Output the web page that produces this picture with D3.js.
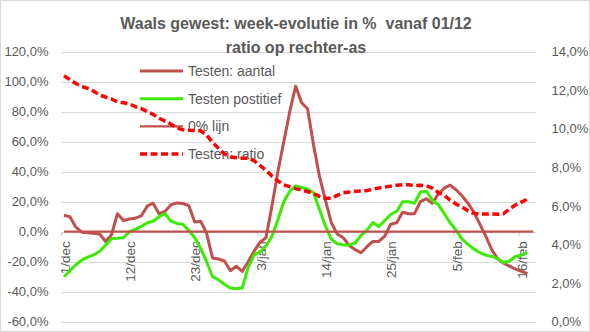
<!DOCTYPE html>
<html>
<head>
<meta charset="utf-8">
<script src="https://cdn.jsdelivr.net/npm/d3@7"></script>
<style>
  html, body { margin: 0; padding: 0; background: #fff; }
  svg { display: block; font-family: "Liberation Sans", Arial, sans-serif; }
</style>
</head>
<body>
<svg id="chart" width="590" height="332"></svg>
<script>
// Daily categories: 1 dec 2020 .. 18 feb 2021
const startDate = new Date(2020, 11, 1);
const endDate = new Date(2021, 1, 19);
const categories = d3.timeDay.range(startDate, endDate);
const maanden = ["jan","feb","mrt","apr","mei","jun","jul","aug","sep","okt","nov","dec"];
const dagLabel = d => d.getDate() + "/" + maanden[d.getMonth()];

const tickLabels = ["1/dec","12/dec","23/dec","3/jan","14/jan","25/jan","5/feb","16/feb"];
const leftTicks = [-60,-40,-20,0,20,40,60,80,100,120];
const rightTicks = [0,2,4,6,8,10,12,14];

// Week-over-week evolution (%) — left axis
const testenAantal = [
  11,10,3,-0.3,-0.7,-1,-1.5,-6.5,-2,12,
  7.5,8.5,9,10.5,17,19,12,13.5,18,19.2,
  18.8,17.5,6.5,7,-1,-17.5,-18.2,-19.5,-26,-23,
  -26.5,-20,-13,-7,-4,17,40,60,80,97,
  86,82,58,37,21,6,-1.5,-4,-9,-12,
  -14,-10,-6.5,-6.5,-3,5,6,13,12,12,
  20,22,19,25,29,31,28,24,19,13,
  5,-3,-12,-18,-21,-23,-25,-26.5,-28
];
const testenPositief = [
  -30,-26,-22,-19,-17,-15.5,-13,-9,-4.5,-4.4,
  -4,0,1.5,3.5,6,7,10,12,7,5.5,
  5,1,-4,-11,-20,-30,-32,-35,-37.5,-38,
  -37.5,-24,-15.5,-13.5,-9.5,-3,8,20,27,30.5,
  29.5,28.5,26,15,4,-5,-8,-8.8,-8.8,-7.5,
  -2.5,1,6.1,3.5,7.5,11.5,13.5,20,20,19,
  26.5,27,21,18,12,6,1,-5,-8.5,-11.5,
  -14,-15.6,-16.5,-18,-20.5,-19.5,-16.5,-15.5,-14
];
const nulLijn = 0;
// Positivity ratio (%) — right axis
const testenRatio = [
  12.75,12.55,12.35,12.2,12.1,11.95,11.75,11.65,11.55,11.4,
  11.35,11.3,11.15,11.05,10.9,10.75,10.55,10.4,10.25,10.05,
  9.95,9.93,9.92,9.9,9.68,9.3,9.0,8.7,8.55,8.5,
  8.48,8.47,8.35,8.1,7.85,7.55,7.3,7.1,7.0,6.9,
  6.82,6.75,6.65,6.5,6.4,6.4,6.55,6.68,6.72,6.76,
  6.78,6.8,6.87,6.93,6.98,7.03,7.08,7.1,7.1,7.05,
  7.08,7.05,6.93,6.7,6.55,6.3,6.1,5.95,5.75,5.62,
  5.58,5.58,5.58,5.57,5.6,5.85,6.05,6.2,6.35
];

const C_AANTAL = "#C0504D";
const C_POS = "#3CEB00";
const C_RATIO = "#FF0000";
const C_TEXT = "#595959";
const C_GRID = "#D9D9D9";

const W = 590, H = 332;
const plotLeft = 61, plotRight = 536;
const svg = d3.select("#chart");

svg.append("rect").attr("x", 0.5).attr("y", 0.5).attr("width", W - 1).attr("height", H - 1)
  .attr("fill", "#fff").attr("stroke", C_GRID);

const x = d3.scaleLinear().domain([0, categories.length - 1]).range([64, 533.3]);
const yL = d3.scaleLinear().domain([-60, 120]).range([321.7, 51.7]);
const yR = d3.scaleLinear().domain([0, 14]).range([321.7, 51.7]);

const pct = v => v.toFixed(1).replace(".", ",") + "%";

// gridlines
svg.append("g").selectAll("line").data(leftTicks).join("line")
  .attr("x1", plotLeft).attr("x2", plotRight)
  .attr("y1", d => Math.round(yL(d)) + 0.5).attr("y2", d => Math.round(yL(d)) + 0.5)
  .attr("stroke", C_GRID).attr("stroke-width", 1);

// left axis labels
svg.append("g").selectAll("text").data(leftTicks).join("text")
  .attr("x", 48.5).attr("y", d => yL(d)).attr("dy", "0.35em")
  .attr("text-anchor", "end").attr("font-size", 13).attr("fill", C_TEXT)
  .text(pct);

// right axis labels
svg.append("g").selectAll("text").data(rightTicks).join("text")
  .attr("x", 551.5).attr("y", d => yR(d)).attr("dy", "0.35em")
  .attr("text-anchor", "start").attr("font-size", 13).attr("fill", C_TEXT)
  .text(pct);

// category axis: tick marks and rotated date labels
const tickIdx = tickLabels.map(l => categories.findIndex(d => dagLabel(d) === l));
const xAxis = svg.append("g");
xAxis.selectAll("line").data(tickIdx).join("line")
  .attr("x1", i => x(i) - 2.3).attr("x2", i => x(i) - 2.3)
  .attr("y1", yL(0)).attr("y2", yL(0) + 4)
  .attr("stroke", "#BFBFBF").attr("stroke-width", 1);
xAxis.selectAll("text").data(tickIdx).join("text")
  .attr("transform", i => `translate(${x(i) + 1},${yL(0) + 9.5}) rotate(-90)`)
  .attr("dy", "0.35em").attr("text-anchor", "end")
  .attr("font-size", 13.5).attr("fill", C_TEXT)
  .text(i => dagLabel(categories[i]));

// legend
const legend = [
  { label: "Testen: aantal", color: C_AANTAL, width: 3, dash: null },
  { label: "Testen postitief", color: C_POS, width: 3, dash: null },
  { label: "0% lijn", color: C_AANTAL, width: 2.25, dash: null },
  { label: "Testen: ratio", color: C_RATIO, width: 3.5, dash: "7 3.5" }
];
const lg = svg.append("g").selectAll("g").data(legend).join("g")
  .attr("transform", (d, k) => `translate(0,${71 + k * 27.7})`);
lg.append("line").attr("x1", 140).attr("x2", 183).attr("y1", 0).attr("y2", 0)
  .attr("stroke", d => d.color).attr("stroke-width", d => d.width)
  .attr("stroke-dasharray", d => d.dash);
lg.append("text").attr("x", 188).attr("y", 0).attr("dy", "0.35em")
  .attr("font-size", 14).attr("fill", C_TEXT).text(d => d.label);

// series
const lineL = d3.line().x((d, i) => x(i)).y(d => yL(d));
const lineR = d3.line().x((d, i) => x(i)).y(d => yR(d));

svg.append("path").datum(testenAantal).attr("d", lineL)
  .attr("fill", "none").attr("stroke", C_AANTAL).attr("stroke-width", 3)
  .attr("stroke-linejoin", "round");
svg.append("path").datum(testenPositief).attr("d", lineL)
  .attr("fill", "none").attr("stroke", C_POS).attr("stroke-width", 3)
  .attr("stroke-linejoin", "round");
svg.append("path").datum(categories.map(() => nulLijn)).attr("d", lineL)
  .attr("fill", "none").attr("stroke", C_AANTAL).attr("stroke-width", 2.25);
svg.append("path").datum(testenRatio).attr("d", lineR)
  .attr("fill", "none").attr("stroke", C_RATIO).attr("stroke-width", 3.5)
  .attr("stroke-dasharray", "7 3.5").attr("stroke-linejoin", "round");

// title
const title = svg.append("g").attr("font-weight", "bold").attr("font-size", 16)
  .attr("fill", C_TEXT).attr("text-anchor", "middle");
title.append("text").attr("x", 296).attr("y", 29).text("Waals gewest: week-evolutie in %  vanaf 01/12")
  .attr("xml:space", "preserve");
title.append("text").attr("x", 296).attr("y", 53).text("ratio op rechter-as");
</script>
</body>
</html>
